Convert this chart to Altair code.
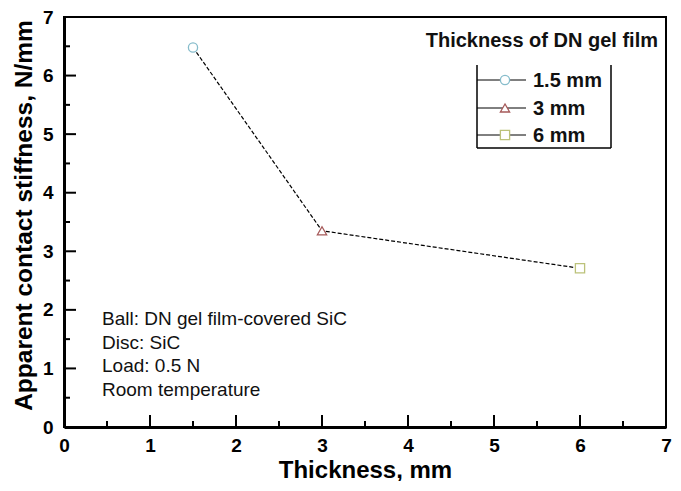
import altair as alt
import pandas as pd

# ---- data ----
thickness = [1.5, 3, 6]
stiffness = [6.48, 3.35, 2.71]
series_labels = ["1.5 mm", "3 mm", "6 mm"]
shapes = ["circle", "triangle-up", "square"]
colors = ["#86bccb", "#a65a5a", "#bcc27a"]
x_major = [0, 1, 2, 3, 4, 5, 6, 7]
x_minor = [0.5, 1.5, 2.5, 3.5, 4.5, 5.5, 6.5]
y_major = [0, 1, 2, 3, 4, 5, 6, 7]
y_minor = [0.5, 1.5, 2.5, 3.5, 4.5, 5.5, 6.5]
notes = ["Ball: DN gel film-covered SiC", "Disc: SiC", "Load: 0.5 N", "Room temperature"]
legend_title = "Thickness of DN gel film"
x_title = "Thickness, mm"
y_title = "Apparent contact stiffness, N/mm"

FONT = "Liberation Sans"
W, H = 602, 410

df = pd.DataFrame({"t": thickness, "s": stiffness, "label": series_labels})
one = pd.DataFrame({"k": [0]})

xs = alt.Scale(domain=[0, 7], nice=False, zero=False)
ys = alt.Scale(domain=[0, 7], nice=False, zero=False)

x_axis = alt.Axis(values=x_major, format="d", ticks=False, domain=True, domainWidth=3,
                  domainColor="black", grid=False, labelFontSize=19, labelFontWeight="bold",
                  labelColor="black", labelPadding=9, labelFlush=False,
                  titleFontSize=24, titleFontWeight="bold", titleColor="black",
                  titleY=50, titleBaseline="alphabetic")
y_axis = alt.Axis(values=y_major, format="d", ticks=False, domain=True, domainWidth=3,
                  domainColor="black", grid=False, labelFontSize=19, labelFontWeight="bold",
                  labelColor="black", labelPadding=11, labelFlush=False,
                  titleFontSize=24.5, titleFontWeight="bold", titleColor="black",
                  titleX=-33, titleY=198, titleAngle=270, titleBaseline="alphabetic",
                  titleAlign="center")


def X(field):
    return alt.X(field, scale=xs, axis=x_axis, title=x_title)


def Y(field):
    return alt.Y(field, scale=ys, axis=y_axis, title=y_title)


line = alt.Chart(df).mark_line(color="black", strokeWidth=1.2, strokeDash=[4, 2]).encode(
    x=X("t:Q"), y=Y("s:Q"))

points = alt.Chart(df).mark_point(filled=False, fill="white", fillOpacity=1, size=85,
                                  strokeWidth=1.3, opacity=1).encode(
    x=X("t:Q"), y=Y("s:Q"),
    shape=alt.Shape("label:N", scale=alt.Scale(domain=series_labels, range=shapes), legend=None),
    color=alt.Color("label:N", scale=alt.Scale(domain=series_labels, range=colors), legend=None),
)

# inward ticks
xmaj = alt.Chart(pd.DataFrame({"v": x_major})).mark_rule(color="black", strokeWidth=2).encode(
    x=X("v:Q"), y=alt.value(H), y2=alt.value(H - 12))
xmin = alt.Chart(pd.DataFrame({"v": x_minor})).mark_rule(color="black", strokeWidth=2).encode(
    x=X("v:Q"), y=alt.value(H), y2=alt.value(H - 6))
ymaj = alt.Chart(pd.DataFrame({"v": y_major})).mark_rule(color="black", strokeWidth=2).encode(
    y=Y("v:Q"), x=alt.value(0), x2=alt.value(12))
ymin = alt.Chart(pd.DataFrame({"v": y_minor})).mark_rule(color="black", strokeWidth=2).encode(
    y=Y("v:Q"), x=alt.value(0), x2=alt.value(6))

note_text = alt.Chart(one).mark_text(align="left", baseline="alphabetic", fontSize=19,
                                     lineHeight=23.5, font=FONT, color="#111").encode(
    x=alt.value(38), y=alt.value(308), text=alt.value(notes))

# legend (drawn by hand)
leg_title = alt.Chart(one).mark_text(align="right", baseline="alphabetic", fontSize=20,
                                     fontWeight="bold", font=FONT, color="#111").encode(
    x=alt.value(594), y=alt.value(30), text=alt.value(legend_title))

BL, BR, BT, BB = 413, 547, 48, 131
box = [
    alt.Chart(one).mark_rule(color="black", strokeWidth=1.5).encode(
        x=alt.value(BL), y=alt.value(BT), y2=alt.value(BB)),
    alt.Chart(one).mark_rule(color="black", strokeWidth=1.5).encode(
        x=alt.value(BR), y=alt.value(BT), y2=alt.value(BB)),
    alt.Chart(one).mark_rule(color="black", strokeWidth=1.5).encode(
        x=alt.value(BL), x2=alt.value(BR), y=alt.value(BB)),
]

entries = []
entry_y = [63, 91, 118]
for lab, shp, col, ey in zip(series_labels, shapes, colors, entry_y):
    entries.append(alt.Chart(one).mark_rule(color="black", strokeWidth=1).encode(
        x=alt.value(BL), x2=alt.value(BL + 49), y=alt.value(ey)))
    entries.append(alt.Chart(one).mark_point(shape=shp, filled=False, fill="white",
                                             fillOpacity=1, size=85, strokeWidth=1.3,
                                             color=col, opacity=1).encode(
        x=alt.value(BL + 28), y=alt.value(ey)))
    entries.append(alt.Chart(one).mark_text(align="left", baseline="middle", fontSize=20,
                                            fontWeight="bold", font=FONT, color="#111").encode(
        x=alt.value(BL + 56), y=alt.value(ey + 1), text=alt.value(lab)))

chart = alt.layer(line, xmaj, xmin, ymaj, ymin, points, note_text, leg_title,
                  *box, *entries).properties(
    width=W, height=H,
    autosize=alt.AutoSizeParams(type="none"),
    padding={"left": 56, "top": 9, "right": 7, "bottom": 54},
).configure(font=FONT, background="white").configure_view(stroke="black", strokeWidth=2)

chart.save("out.html", embed_options={"renderer": "svg", "actions": False})
